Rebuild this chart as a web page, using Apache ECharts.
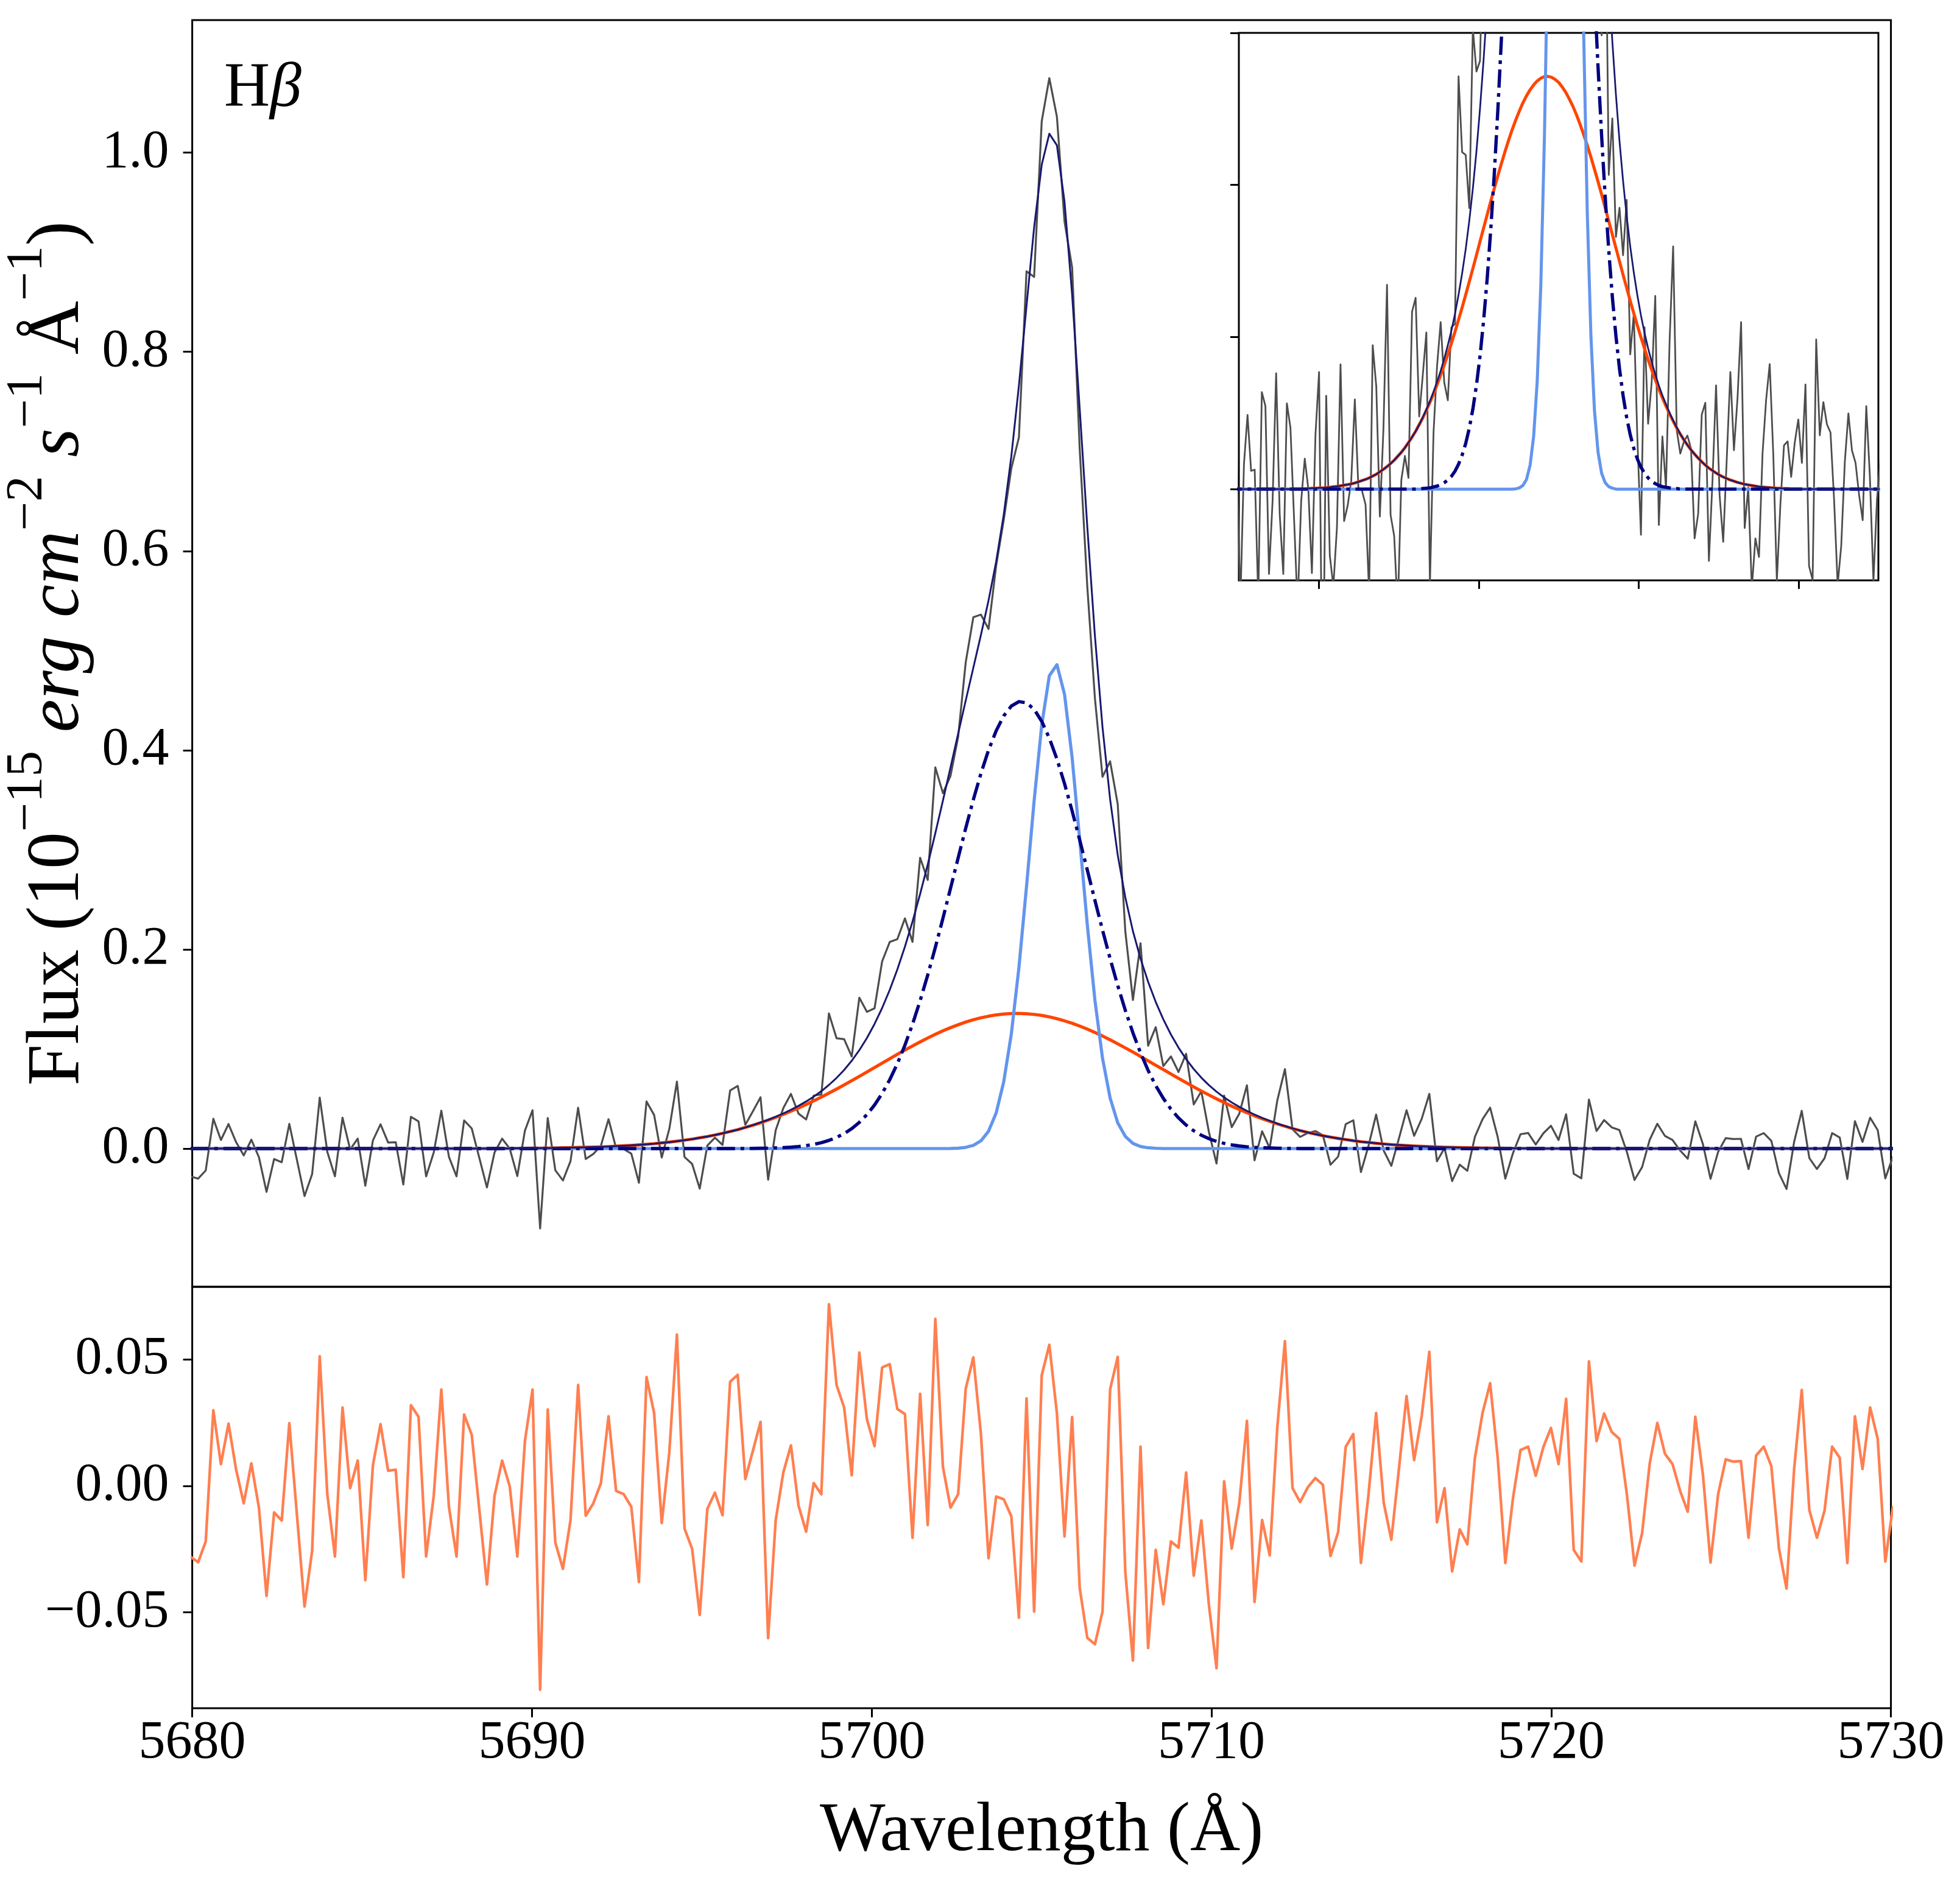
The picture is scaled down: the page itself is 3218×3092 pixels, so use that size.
<!DOCTYPE html>
<html>
<head>
<meta charset="utf-8">
<script src="https://cdn.jsdelivr.net/npm/echarts@6/dist/echarts.min.js"></script>
<style>
html,body{margin:0;padding:0;background:#fff;}
#chart{width:3218px;height:3092px;}
</style>
</head>
<body>
<div id="chart"></div>
<script>
// Wavelength grid of the spectrum (Angstrom)
const lambdaStart = 5679.950;
const lambdaStep = 0.2237;

// Residuals (data - model), one per pixel of the spectrum
const residual = [
-0.0280,
-0.0302,-0.0220,0.0299,0.0086,0.0246,0.0064,-0.0069,0.0089,-0.0086,-0.0435,
-0.0105,-0.0137,0.0248,-0.0114,-0.0477,-0.0257,0.0512,-0.0033,-0.0279,0.0310,
-0.0009,0.0100,-0.0373,0.0082,0.0244,0.0060,0.0064,-0.0361,0.0319,0.0273,
-0.0279,-0.0040,0.0381,-0.0083,-0.0279,0.0282,0.0202,-0.0094,-0.0390,-0.0039,
0.0100,-0.0002,-0.0279,0.0177,0.0381,-0.0806,0.0302,-0.0224,-0.0328,-0.0135,
0.0399,-0.0118,-0.0069,0.0011,0.0275,-0.0020,
-0.0033,-0.0083,-0.0380,0.0430,0.0288,-0.0147,0.0133,0.0598,-0.0169,-0.0249,
-0.0510,-0.0091,-0.0027,-0.0116,0.0412,0.0439,0.0027,0.0139,0.0253,-0.0602,
-0.0135,0.0053,0.0160,-0.0078,-0.0181,0.0011,-0.0033,0.0718,0.0399,0.0310,
0.0042,0.0527,0.0263,0.0157,0.0468,0.0481,0.0304,0.0284,-0.0205,0.0364,
-0.0155,0.0660,0.0075,-0.0086,-0.0033,0.0384,0.0508,0.0205,-0.0286,-0.0042,
-0.0053,-0.0120,-0.0521,0.0346,-0.0497,0.0437,
0.0558,0.0286,-0.0200,0.0272,-0.0405,-0.0601,-0.0626,-0.0497,0.0382,0.0510,
-0.0341,-0.0691,0.0155,-0.0641,-0.0253,-0.0468,-0.0220,-0.0244,0.0053,-0.0355,
-0.0137,-0.0471,-0.0721,0.0018,-0.0248,-0.0067,0.0257,-0.0459,-0.0135,-0.0275,
0.0233,0.0572,-0.0009,-0.0064,-0.0006,0.0031,0.0004,-0.0277,-0.0183,0.0155,
0.0205,-0.0305,-0.0033,0.0288,-0.0067,-0.0213,0.0067,0.0355,0.0102,0.0277,
0.0530,-0.0144,-0.0009,-0.0338,-0.0172,-0.0231,
0.0111,0.0288,0.0406,0.0111,-0.0305,-0.0050,0.0142,0.0155,0.0040,0.0153,
0.0229,0.0086,0.0344,-0.0253,-0.0299,0.0492,0.0177,0.0286,0.0213,0.0186,
-0.0035,-0.0315,-0.0186,0.0089,0.0249,0.0127,0.0086,-0.0020,-0.0102,0.0273,
0.0044,-0.0303,-0.0033,0.0105,0.0096,0.0098,-0.0205,0.0120,0.0155,0.0078,
-0.0247,-0.0406,0.0067,0.0379,-0.0095,-0.0205,-0.0098,0.0155,0.0111,-0.0305,
0.0275,0.0067,0.0310,0.0185,-0.0299,
-0.0080
];

// Broad component (orange), starting at grid index orangeStart; zero elsewhere
const orangeStart = 42;
const orangeFlux = [
0.0002,0.0003,0.0003,0.0004,0.0004,0.0005,0.0006,0.0008,0.0009,0.0011,
0.0013,0.0015,0.0017,0.0020,0.0024,0.0028,0.0032,0.0037,0.0043,0.0049,
0.0057,0.0065,0.0074,0.0084,0.0095,0.0108,0.0121,0.0136,0.0153,0.0171,
0.0190,0.0212,0.0234,0.0259,0.0285,0.0313,0.0343,0.0375,0.0408,0.0443,
0.0479,0.0517,0.0557,0.0597,0.0639,0.0682,0.0725,0.0769,0.0814,0.0858,
0.0902,0.0946,0.0989,0.1031,0.1071,0.1110,0.1147,0.1182,0.1214,0.1243,
0.1270,0.1293,0.1313,0.1329,0.1342,0.1351,0.1356,0.1357,0.1354,0.1347,
0.1337,0.1322,0.1304,0.1282,0.1258,0.1230,0.1199,0.1165,0.1130,0.1092,
0.1052,0.1011,0.0969,0.0925,0.0881,0.0837,0.0793,0.0749,0.0705,0.0662,
0.0619,0.0578,0.0538,0.0499,0.0462,0.0426,0.0392,0.0360,0.0329,0.0300,
0.0273,0.0247,0.0224,0.0201,0.0181,0.0162,0.0145,0.0129,0.0115,0.0102,
0.0090,0.0079,0.0069,0.0061,0.0053,0.0046,0.0040,0.0035,0.0030,0.0026,
0.0022,0.0019,0.0016,0.0014,0.0012,0.0010,0.0008,0.0007,0.0006,0.0005,
0.0004,0.0003,0.0003,0.0002,0.0002
];

// Intermediate component (dash-dot navy)
const dashStart = 74;
const dashFlux = [
0.0002,0.0003,0.0004,0.0007,0.0010,0.0014,0.0021,0.0030,0.0042,0.0059,
0.0082,0.0112,0.0150,0.0200,0.0263,0.0341,0.0437,0.0553,0.0691,0.0852,
0.1038,0.1249,0.1485,0.1742,0.2020,0.2312,0.2613,0.2918,0.3217,0.3503,
0.3766,0.4000,0.4194,0.4344,0.4443,0.4488,0.4476,0.4410,0.4290,0.4121,
0.3911,0.3664,0.3390,0.3098,0.2796,0.2492,0.2194,0.1907,0.1637,0.1388,
0.1162,0.0961,0.0785,0.0632,0.0504,0.0396,0.0308,0.0236,0.0179,0.0134,
0.0099,0.0072,0.0052,0.0037,0.0026,0.0018,0.0012,0.0008,0.0006,0.0004,
0.0002,0.0002
];

// Narrow component (cornflower blue)
const blueStart = 100;
const blueFlux = [
0.0001,0.0004,0.0012,0.0032,0.0078,0.0174,0.0356,0.0670,0.1151,0.1818,
0.2633,0.3492,0.4252,0.4747,0.4859,0.4561,0.3926,0.3098,0.2244,0.1489,
0.0906,0.0507,0.0259,0.0122,0.0052,0.0021,0.0008,0.0003
];

// Tick values
const xTicks = [5680, 5690, 5700, 5710, 5720, 5730];
const mainYTicks = [0.0, 0.2, 0.4, 0.6, 0.8, 1.0];
const residYTicks = [-0.05, 0.0, 0.05];
const insetXTicks = [5690, 5700, 5710, 5720];
const insetYTicks = [0.0, 0.05, 0.10, 0.15];

function comp(arr, start, k) {
  const j = k - start;
  return (j >= 0 && j < arr.length) ? arr[j] : 0;
}

const orangeD = [], dashD = [], blueD = [], totalD = [], fluxD = [], residD = [];
for (let k = 0; k < residual.length; k++) {
  const x = +(lambdaStart + k * lambdaStep).toFixed(4);
  const o = comp(orangeFlux, orangeStart, k);
  const d = comp(dashFlux, dashStart, k);
  const b = comp(blueFlux, blueStart, k);
  const t = o + d + b;
  orangeD.push([x, o]);
  dashD.push([x, d]);
  blueD.push([x, b]);
  totalD.push([x, t]);
  fluxD.push([x, t + residual[k]]);
  residD.push([x, residual[k]]);
}

const FONT = 'Liberation Serif';
const tickFont = 88;
const labFont = 122;

const chart = echarts.init(document.getElementById('chart'), null, {renderer: 'canvas'});

function lineSeries(name, data, xi, yi, color, width, type, z) {
  return {
    name: name, type: 'line', data: data, xAxisIndex: xi, yAxisIndex: yi,
    showSymbol: false, symbol: 'none', clip: true, z: z,
    lineStyle: {color: color, width: width, type: type || 'solid', join: 'round'},
    emphasis: {disabled: true}, silent: true
  };
}

const DASHDOT = [30, 9, 6, 9];

const option = {
  animation: false,
  backgroundColor: '#ffffff',
  grid: [
    {left: 315.6, top: 33, width: 2789, height: 2080, show: true, borderColor: '#000', borderWidth: 3,
     backgroundColor: 'transparent', containLabel: false, outerBoundsMode: 'none'},
    {left: 315.6, top: 2113, width: 2789, height: 692, show: true, borderColor: '#000', borderWidth: 3,
     backgroundColor: 'transparent', containLabel: false, outerBoundsMode: 'none'},
    {left: 2034, top: 54, width: 1050, height: 899, show: true, borderColor: '#000', borderWidth: 3,
     backgroundColor: '#ffffff', z: 5, containLabel: false, outerBoundsMode: 'none'}
  ],
  xAxis: [
    {type: 'value', gridIndex: 0, min: 5680, max: 5730,
     axisLine: {show: false, onZero: false}, axisTick: {show: false}, axisLabel: {show: false}, splitLine: {show: false}},
    {type: 'value', gridIndex: 1, min: 5680, max: 5730, position: 'bottom',
     axisLine: {show: false, onZero: false}, splitLine: {show: false},
     axisTick: {show: true, customValues: xTicks, length: 15, lineStyle: {color: '#000', width: 3}},
     axisLabel: {show: true, customValues: xTicks, margin: 14, fontFamily: FONT, fontSize: tickFont, color: '#000',
                 formatter: v => String(v)},
     name: 'Wavelength (Å)', nameLocation: 'middle', nameGap: 146,
     nameTextStyle: {fontFamily: FONT, fontSize: 114, color: '#000'}},
    {type: 'value', gridIndex: 2, min: 5685, max: 5725, z: 7, position: 'bottom',
     axisLine: {show: false, onZero: false}, splitLine: {show: false},
     axisTick: {show: true, customValues: insetXTicks, length: 14, lineStyle: {color: '#000', width: 3}},
     axisLabel: {show: false}}
  ],
  yAxis: [
    {type: 'value', gridIndex: 0, min: -0.1388, max: 1.1331,
     axisLine: {show: false, onZero: false}, splitLine: {show: false},
     axisTick: {show: true, customValues: mainYTicks, length: 15, lineStyle: {color: '#000', width: 3}},
     axisLabel: {show: true, customValues: mainYTicks, margin: 38, fontFamily: FONT, fontSize: tickFont, color: '#000',
                 formatter: v => v.toFixed(1)},
     name: '{r|Flux (10}{s|\u221215}{r| }{i|erg}{r| }{i|cm}{s|\u22122}{r| }{i|s}{s|\u22121}{r| Å}{s|\u22121}{r|)}',
     nameLocation: 'middle', nameRotate: 90, nameGap: 138,
     nameTextStyle: {
       fontFamily: FONT, fontSize: labFont, color: '#000',
       rich: {
         r: {fontFamily: FONT, fontSize: labFont, color: '#000', lineHeight: 154, verticalAlign: 'bottom'},
         i: {fontFamily: FONT, fontSize: labFont, fontStyle: 'italic', color: '#000', lineHeight: 154, verticalAlign: 'bottom'},
         s: {fontFamily: FONT, fontSize: 85, color: '#000', lineHeight: 84, verticalAlign: 'top'}
       }
     }},
    {type: 'value', gridIndex: 1, min: -0.0879, max: 0.0787,
     axisLine: {show: false, onZero: false}, splitLine: {show: false},
     axisTick: {show: true, customValues: residYTicks, length: 15, lineStyle: {color: '#000', width: 3}},
     axisLabel: {show: true, customValues: residYTicks, margin: 38, fontFamily: FONT, fontSize: tickFont, color: '#000',
                 formatter: v => (Math.abs(v) < 1e-9 ? '0.00' : (v < 0 ? '\u2212' : '') + Math.abs(v).toFixed(2))}},
    {type: 'value', gridIndex: 2, min: -0.03, max: 0.15, z: 7,
     axisLine: {show: false, onZero: false}, splitLine: {show: false},
     axisTick: {show: true, customValues: insetYTicks, length: 14, lineStyle: {color: '#000', width: 3}},
     axisLabel: {show: false}}
  ],
  series: [
    lineSeries('data', fluxD, 0, 0, '#4d4d4d', 3.2, 'solid', 2),
    lineSeries('broad', orangeD, 0, 0, '#ff4500', 5.2, 'solid', 2),
    lineSeries('narrow', blueD, 0, 0, '#6495ed', 5.2, 'solid', 2),
    lineSeries('intermediate', dashD, 0, 0, '#000080', 5.4, DASHDOT, 2),
    lineSeries('total', totalD, 0, 0, '#191970', 3.0, 'solid', 2),
    lineSeries('residual', residD, 1, 1, '#ff7f50', 4.4, 'solid', 2),
    lineSeries('data inset', fluxD, 2, 2, '#4d4d4d', 2.8, 'solid', 8),
    lineSeries('broad inset', orangeD, 2, 2, '#ff4500', 5.0, 'solid', 8),
    lineSeries('narrow inset', blueD, 2, 2, '#6495ed', 5.0, 'solid', 8),
    lineSeries('intermediate inset', dashD, 2, 2, '#000080', 5.4, DASHDOT, 8),
    lineSeries('total inset', totalD, 2, 2, '#191970', 2.8, 'solid', 8)
  ],
  graphic: [
    {type: 'text', left: 368, top: 95, z: 20,
     style: {text: '{h|H}{b|β}', rich: {
       h: {fontFamily: FONT, fontSize: 104, fill: '#000'},
       b: {fontFamily: FONT, fontSize: 104, fontStyle: 'italic', fill: '#000'}
     }}}
  ]
};
chart.setOption(option);
</script>
</body>
</html>
